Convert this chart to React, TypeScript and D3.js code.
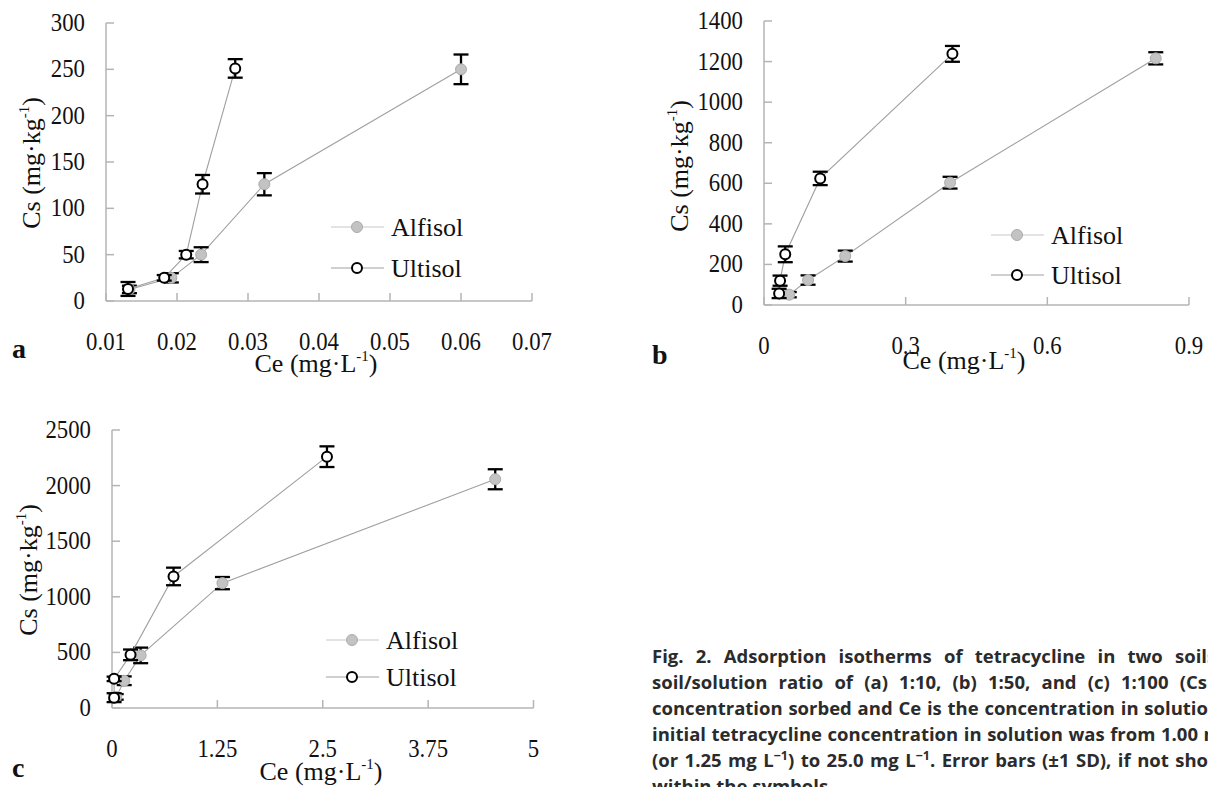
import React from 'react';
import * as d3 from 'd3';

// ---------- data ----------
// Panel a (soil/solution 1:10)
const aAlfX = [0.0133, 0.0192, 0.0234, 0.0323, 0.06];
const aAlfY = [12.5, 25, 50, 126, 250];
const aAlfE = [4, 5, 8, 12, 16];
const aUltX = [0.0131, 0.0182, 0.0213, 0.0236, 0.0282];
const aUltY = [13, 25, 50, 126, 251];
const aUltE = [7.5, 3, 4, 10, 10];
const aXTicks = [0.01, 0.02, 0.03, 0.04, 0.05, 0.06, 0.07];
const aXLabels = ['0.01', '0.02', '0.03', '0.04', '0.05', '0.06', '0.07'];
const aYTicks = [0, 50, 100, 150, 200, 250, 300];

// Panel b (1:50)
const bAlfX = [0.0535, 0.0933, 0.172, 0.394, 0.8296];
const bAlfY = [51, 123, 241, 603, 1216];
const bAlfE = [13, 23, 27, 29, 30];
const bUltX = [0.032, 0.034, 0.045, 0.119, 0.399];
const bUltY = [57, 120, 250, 624, 1238];
const bUltE = [23, 25, 39, 33, 39];
const bXTicks = [0, 0.3, 0.6, 0.9];
const bXLabels = ['0', '0.3', '0.6', '0.9'];
const bYTicks = [0, 200, 400, 600, 800, 1000, 1200, 1400];

// Panel c (1:100)
const cAlfX = [0.05, 0.145, 0.34, 1.31, 4.546];
const cAlfY = [100, 245, 473, 1123, 2057];
const cAlfE = [25, 39, 70, 55, 90];
const cUltX = [0.025, 0.025, 0.22, 0.73, 2.55];
const cUltY = [93, 262, 478, 1183, 2260];
const cUltE = [40, 20, 48, 79, 93];
const cXTicks = [0, 1.25, 2.5, 3.75, 5];
const cXLabels = ['0', '1.25', '2.5', '3.75', '5'];
const cYTicks = [0, 500, 1000, 1500, 2000, 2500];

const seriesNames = ['Alfisol', 'Ultisol'];

// "|" marks a superscript "−1"
const captionLines = [
  'Fig. 2. Adsorption isotherms of tetracycline in two soils at a',
  'soil/solution ratio of (a) 1:10, (b) 1:50, and (c) 1:100 (Cs is the',
  'concentration sorbed and Ce is the concentration in solution). The',
  'initial tetracycline concentration in solution was from 1.00 mg',
  '(or 1.25 mg L|) to 25.0 mg L|. Error bars (±1 SD), if not shown, are',
  'within the symbols.',
];
// visible text up to the picture's right edge, and where it ends (justified lines)
const captionAnchors = [
  'Fig. 2. Adsorption isotherms of tetracycline in two soil',
  'soil/solution ratio of (a) 1:10, (b) 1:50, and (c) 1:100 (Cs',
  'concentration sorbed and Ce is the concentration in solutio',
  'initial tetracycline concentration in solution was from 1.00',
  '(or 1.25 mg L−1) to 25.0 mg L−1. Error bars (±1 SD), if not sho',
  '',
];
const captionAnchorEnds = [1207, 1207, 1208, 1198, 1208, 0];

// ---------- styling ----------
const SERIF = "'Liberation Serif', 'Times New Roman', serif";
const SANS = "'Open Sans', 'DejaVu Sans', sans-serif";
const AXIS = '#b4b4b4';
const LINE = '#a0a0a0';
const CAP_X = 652;

type Layout = {
  left: number; right: number; top: number; bottom: number;
  xDomain: [number, number]; yDomain: [number, number];
  xTitleX: number; xTitleY: number; yTitleX: number; yTitleY: number;
  legX: number; legY1: number; legY2: number;
  letter: string; letterX: number; letterY: number;
};

type PanelData = {
  alf: { x: number[]; y: number[]; e: number[] };
  ult: { x: number[]; y: number[]; e: number[] };
  xTicks: number[]; xLabels: string[]; yTicks: number[];
};

function Panel({ L, D }: { L: Layout; D: PanelData }) {
  const x = d3.scaleLinear().domain(L.xDomain).range([L.left, L.right]);
  const y = d3.scaleLinear().domain(L.yDomain).range([L.bottom, L.top]);
  const path = (xs: number[], ys: number[]) =>
    d3.line<number>().x((d) => x(d)).y((_, i) => y(ys[i]))(xs) || '';
  const tickLen = 8;
  const capW = 7.5;

  const errBars = (s: { x: number[]; y: number[]; e: number[] }) =>
    s.x.map((xv, i) => {
      const cx = x(xv);
      const y1 = y(s.y[i] + s.e[i]);
      const y2 = y(s.y[i] - s.e[i]);
      return (
        <g key={i} stroke="#000" strokeWidth={2.3}>
          <line x1={cx} x2={cx} y1={y1} y2={y2} />
          <line x1={cx - capW} x2={cx + capW} y1={y1} y2={y1} />
          <line x1={cx - capW} x2={cx + capW} y1={y2} y2={y2} />
        </g>
      );
    });

  const alfMarker = (cx: number, cy: number, k: any) => (
    <circle key={k} cx={cx} cy={cy} r={5.5} fill="#c3c3c3" stroke="#ababab" strokeWidth={1} />
  );
  const ultMarker = (cx: number, cy: number, k: any) => (
    <circle key={k} cx={cx} cy={cy} r={5} fill="#fff" stroke="#000" strokeWidth={2} />
  );

  return (
    <g>
      <line x1={L.left} x2={L.left} y1={L.top} y2={L.bottom} stroke={AXIS} strokeWidth={1.5} />
      <line x1={L.left} x2={L.right} y1={L.bottom} y2={L.bottom} stroke={AXIS} strokeWidth={1.5} />
      {D.yTicks.map((t) => (
        <g key={'yt' + t}>
          <line x1={L.left} x2={L.left + tickLen} y1={y(t)} y2={y(t)} stroke={AXIS} strokeWidth={1.5} />
          <text
            transform={`translate(${L.left - 21},${y(t) + 8}) scale(0.93,1)`}
            textAnchor="end"
            fontFamily={SERIF}
            fontSize={24.5}
            fill="#111"
          >
            {String(t)}
          </text>
        </g>
      ))}
      {D.xTicks.map((t, i) => (
        <g key={'xt' + t}>
          <line x1={x(t)} x2={x(t)} y1={L.bottom} y2={L.bottom - tickLen} stroke={AXIS} strokeWidth={1.5} />
          <text
            transform={`translate(${x(t)},${L.bottom + 49}) scale(0.93,1)`}
            textAnchor="middle"
            fontFamily={SERIF}
            fontSize={24.5}
            fill="#111"
          >
            {D.xLabels[i]}
          </text>
        </g>
      ))}
      <text x={L.xTitleX} y={L.xTitleY} textAnchor="middle" fontFamily={SERIF} fontSize={26} fill="#111">
        <tspan>Ce (mg·L</tspan>
        <tspan dy={-11} fontSize={15}>-1</tspan>
        <tspan dy={11}>)</tspan>
      </text>
      <text
        transform={`translate(${L.yTitleX},${L.yTitleY}) rotate(-90)`}
        textAnchor="middle"
        fontFamily={SERIF}
        fontSize={26}
        fill="#111"
      >
        <tspan>Cs (mg·kg</tspan>
        <tspan dy={-11} fontSize={15}>-1</tspan>
        <tspan dy={11}>)</tspan>
      </text>
      <text x={L.letterX} y={L.letterY} fontFamily={SERIF} fontWeight="bold" fontSize={28} fill="#111">
        {L.letter}
      </text>

      <path d={path(D.alf.x, D.alf.y)} fill="none" stroke={LINE} strokeWidth={1.1} />
      {errBars(D.alf)}
      {D.alf.x.map((xv, i) => alfMarker(x(xv), y(D.alf.y[i]), i))}
      <path d={path(D.ult.x, D.ult.y)} fill="none" stroke={LINE} strokeWidth={1.1} />
      {errBars(D.ult)}
      {D.ult.x.map((xv, i) => ultMarker(x(xv), y(D.ult.y[i]), i))}

      <line x1={L.legX - 26} x2={L.legX + 27} y1={L.legY1} y2={L.legY1} stroke="#c8c8c8" strokeWidth={1.2} />
      {alfMarker(L.legX, L.legY1, 'la')}
      <text x={L.legX + 34} y={L.legY1 + 9} fontFamily={SERIF} fontSize={26} fill="#111">
        {seriesNames[0]}
      </text>
      <line x1={L.legX - 26} x2={L.legX + 27} y1={L.legY2} y2={L.legY2} stroke={LINE} strokeWidth={1.2} />
      {ultMarker(L.legX, L.legY2, 'lu')}
      <text x={L.legX + 34} y={L.legY2 + 9} fontFamily={SERIF} fontSize={26} fill="#111">
        {seriesNames[1]}
      </text>
    </g>
  );
}

const layoutA: Layout = {
  left: 106, right: 532, top: 23, bottom: 301,
  xDomain: [0.01, 0.07], yDomain: [0, 300],
  xTitleX: 316, xTitleY: 372, yTitleX: 40, yTitleY: 163,
  legX: 357, legY1: 227, legY2: 268,
  letter: 'a', letterX: 12, letterY: 358,
};
const layoutB: Layout = {
  left: 764, right: 1189, top: 21, bottom: 305,
  xDomain: [0, 0.9], yDomain: [0, 1400],
  xTitleX: 964, xTitleY: 369, yTitleX: 688, yTitleY: 166,
  legX: 1017, legY1: 235, legY2: 275,
  letter: 'b', letterX: 652, letterY: 364,
};
const layoutC: Layout = {
  left: 112, right: 533.5, top: 430, bottom: 708,
  xDomain: [0, 5], yDomain: [0, 2500],
  xTitleX: 321, xTitleY: 780, yTitleX: 37, yTitleY: 570,
  legX: 352, legY1: 640, legY2: 677,
  letter: 'c', letterX: 12, letterY: 777,
};

const dataA: PanelData = {
  alf: { x: aAlfX, y: aAlfY, e: aAlfE },
  ult: { x: aUltX, y: aUltY, e: aUltE },
  xTicks: aXTicks, xLabels: aXLabels, yTicks: aYTicks,
};
const dataB: PanelData = {
  alf: { x: bAlfX, y: bAlfY, e: bAlfE },
  ult: { x: bUltX, y: bUltY, e: bUltE },
  xTicks: bXTicks, xLabels: bXLabels, yTicks: bYTicks,
};
const dataC: PanelData = {
  alf: { x: cAlfX, y: cAlfY, e: cAlfE },
  ult: { x: cUltX, y: cUltY, e: cUltE },
  xTicks: cXTicks, xLabels: cXLabels, yTicks: cYTicks,
};

function captionNodes(text: string) {
  const parts = text.split('|');
  const out: React.ReactNode[] = [];
  parts.forEach((p, i) => {
    out.push(
      <tspan key={'p' + i} dy={i > 0 ? 7 : 0}>
        {p}
      </tspan>
    );
    if (i < parts.length - 1) {
      out.push(
        <tspan key={'s' + i} fontSize={12.5} dy={-7}>
          −1
        </tspan>
      );
    }
  });
  return out;
}

function Caption() {
  const refs = React.useRef<(SVGTextElement | null)[]>([]);
  const justify = React.useCallback(() => {
    refs.current.forEach((el, i) => {
      if (!el) return;
      const anchor = captionAnchors[i];
      if (!anchor) return;
      el.style.wordSpacing = '0px';
      try {
        const n = anchor.length;
        const w = el.getSubStringLength(0, n);
        const spaces = anchor.split(' ').length - 1;
        const ws = (captionAnchorEnds[i] - CAP_X - w) / spaces;
        el.style.wordSpacing = `${ws.toFixed(2)}px`;
      } catch (e) {
        el.style.wordSpacing = '2px';
      }
    });
  }, []);
  React.useLayoutEffect(() => {
    justify();
    if ((document as any).fonts && (document as any).fonts.ready) {
      (document as any).fonts.ready.then(justify);
    }
  }, [justify]);
  return (
    <g>
      {captionLines.map((t, i) => (
        <text
          key={i}
          ref={(el) => {
            refs.current[i] = el;
          }}
          x={CAP_X}
          y={663 + i * 26}
          fontFamily={SANS}
          fontWeight="bold"
          fontSize={18.5}
          fill="#2b2b2b"
        >
          {captionNodes(t)}
        </text>
      ))}
    </g>
  );
}

export default function App() {
  return (
    <svg
      width={1208}
      height={787}
      viewBox="0 0 1208 787"
      style={{ position: 'absolute', left: 0, top: 0, background: '#fff' }}
    >
      <rect x={0} y={0} width={1208} height={787} fill="#fff" />
      <Panel L={layoutA} D={dataA} />
      <Panel L={layoutB} D={dataB} />
      <Panel L={layoutC} D={dataC} />
      <Caption />
    </svg>
  );
}
